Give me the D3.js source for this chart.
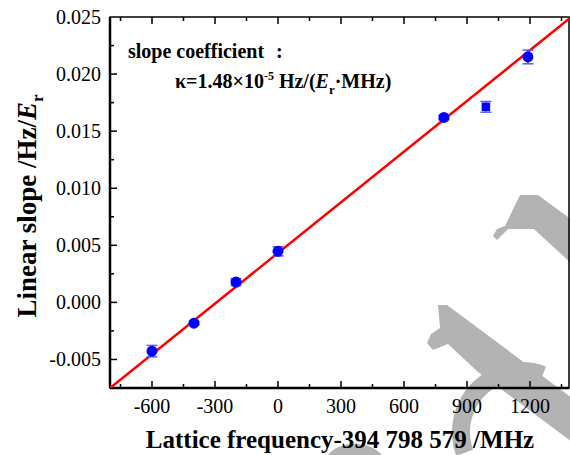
<!DOCTYPE html>
<html>
<head>
<meta charset="utf-8">
<script src="https://cdn.jsdelivr.net/npm/d3@7"></script>
<style>
	body { margin: 0; background: #fff; }
	svg { display: block; font-family: "Liberation Serif", "Times New Roman", serif; }
</style>
</head>
<body>
<svg id="chart" width="570" height="455"></svg>
<script>
// measured points
var latticeFreq = [-600, -400, -200, 0, 790, 990, 1190];
var linearSlope = [-0.00427, -0.00182, 0.00178, 0.00447, 0.0162, 0.01713, 0.0215];
var slopeError = [0.0005, 0.00015, 0.0003, 0.0004, 0.0002, 0.00047, 0.0006];
var markerShape = ["circle", "circle", "circle", "circle", "circle", "square", "circle"];

// linear fit
var fitSlope = 1.48e-5;
var fitIntercept = 0.00433;

var xTicks = [-600, -300, 0, 300, 600, 900, 1200];
var yTicks = [-0.005, 0, 0.005, 0.010, 0.015, 0.020, 0.025];

(function() {

	var svg = d3.select("#chart"),
		pLeft = 110, pRight = 569, pTop = 17, pBottom = 388;

	var x = d3.scaleLinear().domain([-800, 1400]).range([pLeft, 572]);
	var y = d3.scaleLinear().domain([-0.0075, 0.025]).range([pBottom, pTop]);

	// watermark (grey letter strokes behind the plot)
	var wm = svg.append("g").attr("fill", "#b3b3b3").attr("stroke", "none");
	wm.append("path").attr("d", "M493,236 L497,229 L505,226 L520,195 L538,195 L572,220 L572,264 L534,229 L508,229 L497,240 Z");
	wm.append("path").attr("d", "M427,343 L431,334 L440,328 L438,305 L447,305 L572,398 L572,442 L478,372 L448,344 L433,350 Z");

	var ringAngles = d3.range(200, 69, -5).map(function(a) { return a * Math.PI / 180; });
	var outer = ringAngles.map(function(a) { return [522 + 70 * Math.cos(a), 432 - 70 * Math.sin(a)]; });
	var inner = ringAngles.slice().reverse().map(function(a) { return [522 + 52 * Math.cos(a), 432 - 52 * Math.sin(a)]; });
	wm.append("path").attr("d", d3.line()(outer.concat(inner)) + "Z");
	wm.append("path").attr("d", "M328,455 C338,441 368,439 382,455 Z");

	svg.append("clipPath").attr("id", "plotClip")
		.append("rect").attr("x", pLeft).attr("y", pTop).attr("width", pRight - pLeft).attr("height", pBottom - pTop);

	// frame
	svg.append("rect")
		.attr("x", pLeft).attr("y", pTop)
		.attr("width", pRight - pLeft).attr("height", pBottom - pTop)
		.attr("fill", "none").attr("stroke", "#000").attr("stroke-width", 1.5);
	svg.append("line")
		.attr("x1", pLeft).attr("x2", pLeft).attr("y1", pTop).attr("y2", pBottom)
		.attr("stroke", "#000").attr("stroke-width", 2.5);
	svg.append("line")
		.attr("x1", pLeft).attr("x2", pRight).attr("y1", pBottom).attr("y2", pBottom)
		.attr("stroke", "#000").attr("stroke-width", 2.5);

	// ticks (inward)
	var xMinor = d3.range(-750, 1400, 150);
	var yMinor = d3.range(1, 13);

	var ticks = svg.append("g").attr("stroke", "#000").attr("stroke-width", 1.5);
	xMinor.forEach(function(v) {
		var major = xTicks.indexOf(v) >= 0, len = major ? 7 : 4;
		ticks.append("line").attr("x1", x(v)).attr("x2", x(v)).attr("y1", pBottom).attr("y2", pBottom - len);
		ticks.append("line").attr("x1", x(v)).attr("x2", x(v)).attr("y1", pTop).attr("y2", pTop + len);
	});
	yMinor.forEach(function(i) {
		var v = -0.0075 + i * 0.0025, len = i % 2 === 1 ? 7 : 4;
		ticks.append("line").attr("x1", pLeft).attr("x2", pLeft + len).attr("y1", y(v)).attr("y2", y(v));
	});

	svg.append("g").selectAll("text").data(xTicks).join("text")
		.attr("x", function(d) { return x(d); })
		.attr("y", 413)
		.attr("text-anchor", "middle")
		.attr("font-size", 20)
		.text(function(d) { return d; });

	svg.append("g").selectAll("text").data(yTicks).join("text")
		.attr("x", 101)
		.attr("y", function(d) { return y(d) + 7; })
		.attr("text-anchor", "end")
		.attr("font-size", 20)
		.text(function(d) { return d3.format(".3f")(d).replace("\u2212", "-"); });

	// fit line
	var plot = svg.append("g").attr("clip-path", "url(#plotClip)");
	plot.append("line")
		.attr("x1", x(-800)).attr("y1", y(fitSlope * -800 + fitIntercept))
		.attr("x2", x(1400)).attr("y2", y(fitSlope * 1400 + fitIntercept))
		.attr("stroke", "#ff0000").attr("stroke-width", 2.5);

	// error bars
	var bars = plot.append("g").attr("stroke", "#5a5aff").attr("stroke-width", 1.5);
	latticeFreq.forEach(function(f, i) {
		var y0 = y(linearSlope[i] - slopeError[i]), y1 = y(linearSlope[i] + slopeError[i]);
		bars.append("line").attr("x1", x(f)).attr("x2", x(f)).attr("y1", y0).attr("y2", y1);
		bars.append("line").attr("x1", x(f) - 5.5).attr("x2", x(f) + 5.5).attr("y1", y0).attr("y2", y0);
		bars.append("line").attr("x1", x(f) - 5.5).attr("x2", x(f) + 5.5).attr("y1", y1).attr("y2", y1);
	});

	// markers
	plot.append("g").selectAll("path").data(latticeFreq).join("path")
		.attr("transform", function(d, i) { return "translate(" + x(d) + "," + y(linearSlope[i]) + ")"; })
		.attr("d", function(d, i) {
			return d3.symbol()
				.type(markerShape[i] === "square" ? d3.symbolSquare : d3.symbolCircle)
				.size(markerShape[i] === "square" ? 72 : 95)();
		})
		.attr("fill", "#0000ff");

	// annotation
	var note = svg.append("g").attr("font-weight", "bold").attr("font-size", 20);
	note.append("text").attr("x", 128).attr("y", 58).text("slope coefficient");
	note.append("text").attr("x", 276).attr("y", 58).text(":");
	var k = note.append("text").attr("x", 175).attr("y", 88);
	k.append("tspan").text("\u03ba=1.48\u00d710");
	k.append("tspan").attr("font-size", 12).attr("dy", -8).text("-5");
	k.append("tspan").attr("dy", 8).text(" Hz/(");
	k.append("tspan").attr("font-style", "italic").text("E");
	k.append("tspan").attr("font-size", 13).attr("dy", 6).text("r");
	k.append("tspan").attr("dy", -6).text("\u00b7MHz)");

	// axis titles
	svg.append("text")
		.attr("x", 340).attr("y", 448)
		.attr("text-anchor", "middle")
		.attr("font-weight", "bold").attr("font-size", 25)
		.text("Lattice frequency-394 798 579 /MHz");

	var yl = svg.append("text")
		.attr("transform", "translate(36,206) rotate(-90)")
		.attr("text-anchor", "middle")
		.attr("font-weight", "bold").attr("font-size", 27);
	yl.append("tspan").text("Linear slope /Hz/");
	yl.append("tspan").attr("font-style", "italic").text("E");
	yl.append("tspan").attr("font-size", 17).attr("dy", 7).text("r");
})();
</script>
</body>
</html>
